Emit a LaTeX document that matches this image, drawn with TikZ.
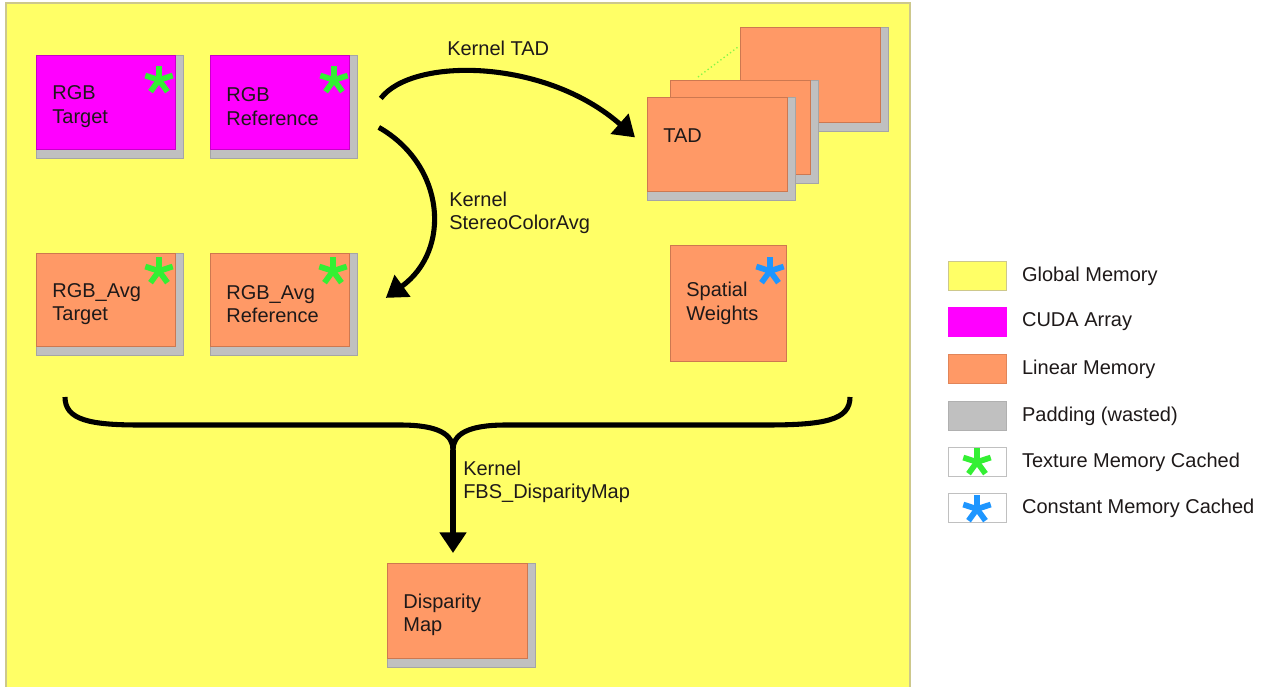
\documentclass[tikz,border=0pt]{standalone}
\usepackage{fontspec}
\setmainfont{Liberation Sans}
\usetikzlibrary{arrows.meta}
\definecolor{gmem}{RGB}{255,255,102}
\definecolor{gmemline}{RGB}{205,200,140}
\definecolor{cudaarr}{RGB}{255,0,255}
\definecolor{cudaline}{RGB}{200,0,200}
\definecolor{linmem}{RGB}{255,153,102}
\definecolor{linline}{RGB}{205,120,80}
\definecolor{padc}{RGB}{192,192,192}
\definecolor{padline}{RGB}{165,165,165}
\definecolor{texast}{RGB}{51,240,51}
\definecolor{conast}{RGB}{30,150,255}
\definecolor{txt}{RGB}{30,25,25}
\tikzset{
  lbl/.style={font=\fontsize{15}{17.5}\selectfont, text=txt, align=left, inner sep=0pt},
  boxbase/.style={anchor=north west, line width=0.6pt, align=left, inner xsep=12pt, inner ysep=0pt,
     font=\fontsize{15}{17.5}\selectfont, text=txt},
  textdown/.style={execute at begin node=\rule{0pt}{17pt}},
  cudabox/.style={boxbase, textdown, fill=cudaarr, draw=cudaline},
  linbox/.style={boxbase, textdown, fill=linmem, draw=linline},
  spatbox/.style={boxbase, fill=linmem, draw=linline},
  padbox/.style={fill=padc, draw=padline, line width=0.6pt},
  kernarrow/.style={line width=3.8pt, -{Triangle[length=15.5pt,width=19.5pt]}},
  legbox/.style={minimum width=43.5pt, minimum height=22pt, line width=0.6pt, inner sep=0pt},
  leglbl/.style={font=\fontsize{15}{17}\selectfont, text=txt, anchor=west, inner sep=0pt},
}
% name, x, y, w, h (px), style, text
\newcommand{\memblock}[7]{%
  \fill[padbox] (#2,#3) rectangle ++(#4+8,#5+9);
  \node[#6, minimum width=#4*0.75pt, minimum height=#5*0.75pt, text width=#4*0.75pt-24pt] (#1) at (#2,#3) {#7};
}
\newcommand{\plainblock}[7]{%
  \node[#6, minimum width=#4*0.75pt, minimum height=#5*0.75pt, text width=#4*0.75pt-24pt] (#1) at (#2,#3) {#7};
}
\newcommand{\astmark}[3]{%
  \foreach \a in {90,18,162,234,306}
    \draw[#1, line width=4.3pt] (#2,#3) -- ++(\a:10.8pt);
}
\begin{document}
\begin{tikzpicture}[x=0.75pt,y=-0.75pt]
\useasboundingbox (0,0) rectangle (1268,686);
\fill[white] (0,0) rectangle (1268,686);
% global memory area
\filldraw[fill=gmem, draw=gmemline, line width=1.2pt] (6,3) rectangle (910,690);

% TAD stack (back to front)
\memblock{tadc}{740}{27}{140}{95}{linbox}{}
\memblock{tadb}{670}{80}{140}{94}{linbox}{}
\draw[texast!60!gmem, line width=1pt, dotted] (698,77) -- (738,47);
\memblock{tada}{647}{97}{140}{94}{linbox}{TAD\\[2pt]\mbox{}}

% RGB blocks
\memblock{rgbt}{36}{55}{139}{94}{cudabox}{RGB\\Target}
\memblock{rgbr}{210}{55}{139}{94}{cudabox}{RGB\\Reference}
\memblock{avgt}{36}{253}{139}{93}{linbox}{RGB\_Avg\\Target}
\memblock{avgr}{210}{253}{139}{93}{linbox}{RGB\_Avg\\Reference}
\plainblock{spat}{670}{245}{116}{116}{spatbox}{Spatial\\Weights}
\memblock{disp}{387}{563}{140}{95}{linbox}{Disparity\\Map}

% asterisks
\astmark{texast}{159}{80}
\astmark{texast}{334}{80}
\astmark{texast}{159}{271}
\astmark{texast}{333}{271}
\astmark{conast}{770}{271}

% Kernel TAD
\draw[kernarrow] ([shift={(31,-4)}]rgbr.east) .. controls (412,57) and (545,58) .. ([shift={(-12,-7)}]tada.west);
\node[lbl, anchor=base west] (ktad) at (447,55) {Kernel TAD};

% Kernel StereoColorAvg
\draw[kernarrow] ([shift={(29,25)}]rgbr.east) .. controls (445,165) and (452,250) .. ([shift={(36,-2)}]avgr.east);
\node[lbl, anchor=west] (kavg) at (449,213) {Kernel\\StereoColorAvg};

% Brace and Kernel FBS_DisparityMap
\coordinate (bl) at (65,397);
\coordinate (br) at (850,397);
\coordinate (cusp) at (453,450);
\draw[line width=3.8pt] (bl) .. controls (65,420) and (90,425) .. (140,425) -- (400,425)
   .. controls (440,425) and (453,435) .. (cusp);
\draw[line width=3.8pt] (br) .. controls (850,420) and (825,425) .. (766,425) -- (506,425)
   .. controls (466,425) and (453,435) .. (cusp);
\draw[kernarrow, shorten >=7.5pt] (cusp) -- (disp.north -| cusp);
\node[lbl, anchor=west] (kfbs) at (463,482) {Kernel\\FBS\_DisparityMap};

% legend
\node[legbox, fill=gmem, draw=gmemline, anchor=north west] (lg1) at (948,261) {};
\node[legbox, fill=cudaarr, draw=cudaarr, anchor=north west] (lg2) at (948,307) {};
\node[legbox, fill=linmem, draw=linline!60!linmem, anchor=north west] (lg3) at (948,354) {};
\node[legbox, fill=padc, draw=padline!60!padc, anchor=north west] (lg4) at (948,401) {};
\node[legbox, fill=white, draw=padc, anchor=north west] (lg5) at (948,447) {};
\node[legbox, fill=white, draw=padc, anchor=north west] (lg6) at (948,493) {};
\astmark{texast}{977}{462}
\astmark{conast}{977}{509}
\node[leglbl] (lt1) at ([xshift=11.25pt]lg1.east) {Global Memory};
\node[leglbl] (lt2) at ([xshift=11.25pt]lg2.east) {CUDA Array};
\node[leglbl] (lt3) at ([xshift=11.25pt]lg3.east) {Linear Memory};
\node[leglbl] (lt4) at ([xshift=11.25pt]lg4.east) {Padding (wasted)};
\node[leglbl] (lt5) at ([xshift=11.25pt]lg5.east) {Texture Memory Cached};
\node[leglbl] (lt6) at ([xshift=11.25pt]lg6.east) {Constant Memory Cached};
\end{tikzpicture}
\end{document}
